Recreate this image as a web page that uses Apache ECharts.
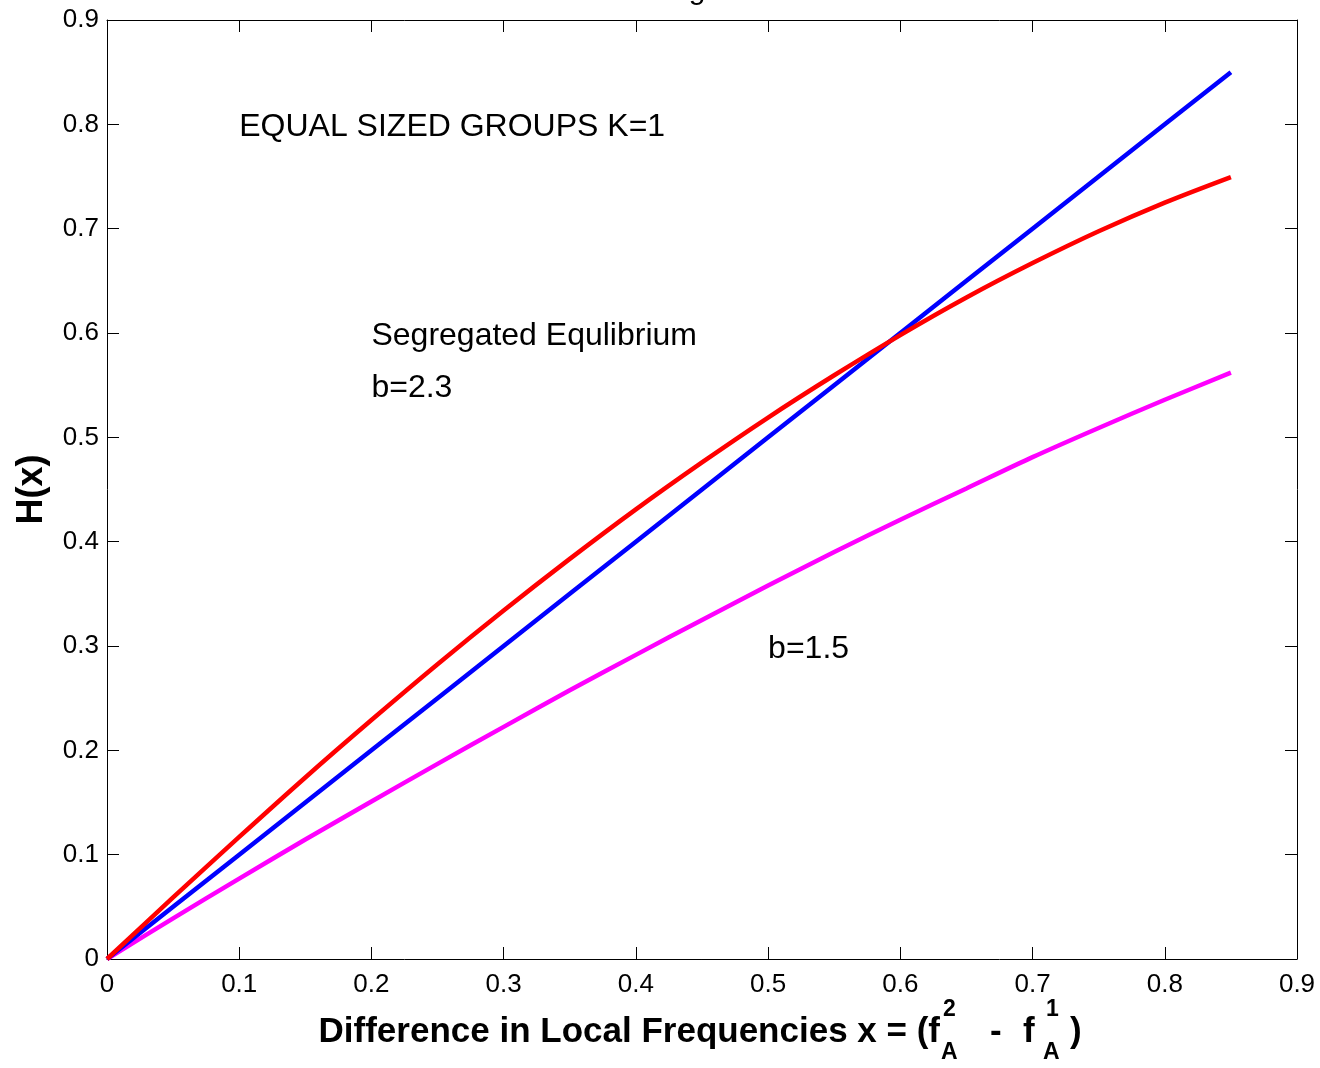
<!DOCTYPE html>
<html>
<head>
<meta charset="utf-8">
<script src="https://cdn.jsdelivr.net/npm/echarts@6/dist/echarts.min.js"></script>
<style>
  html, body { margin: 0; padding: 0; background: #fff; }
  #chart { width: 1320px; height: 1068px; }
</style>
</head>
<body>
<div id="chart"></div>
<script>
// x values (difference in local frequencies)
const xValues = [0, 0.05, 0.1, 0.15, 0.2, 0.25, 0.3, 0.35, 0.4, 0.45, 0.5, 0.55, 0.6, 0.65, 0.7, 0.75, 0.8, 0.85]
// H(x)
const diagonal = [0, 0.05, 0.1, 0.15, 0.2, 0.25, 0.3, 0.35, 0.4, 0.45, 0.5, 0.55, 0.6, 0.65, 0.7, 0.75, 0.8, 0.85]
const hB23 = [0, 0.059, 0.117, 0.174, 0.229, 0.2825, 0.334, 0.3835, 0.431, 0.476, 0.519, 0.5595, 0.598, 0.634, 0.667, 0.6975, 0.725, 0.7495]
const hB15 = [0, 0.039, 0.077, 0.1145, 0.151, 0.187, 0.2225, 0.2575, 0.2915, 0.325, 0.358, 0.390, 0.421, 0.451, 0.481, 0.509, 0.536, 0.562]
const tickLabels = ['0', '0.1', '0.2', '0.3', '0.4', '0.5', '0.6', '0.7', '0.8', '0.9']

// annotations, placed in data coordinates
const notes = [
  { text: 'EQUAL SIZED GROUPS K=1', at: [0.1, 0.8] },
  { text: 'Segregated Equlibrium', at: [0.2, 0.6] },
  { text: 'b=2.3', at: [0.2, 0.55] },
  { text: 'b=1.5', at: [0.5, 0.3] }
]

const FONT = "'Liberation Sans', Arial, Helvetica, sans-serif"

function pairs (ys) {
  return xValues.map((x, i) => [x, ys[i]])
}

function fmt (v) {
  return tickLabels[Math.round(v * 10)]
}

const axisLine = { show: true, onZero: false, lineStyle: { color: '#000', width: 1 } }
const axisTick = { show: true, inside: true, length: 12, lineStyle: { color: '#000', width: 1 } }

const chart = echarts.init(document.getElementById('chart'))

chart.setOption({
  animation: false,
  grid: { left: 107, right: 23, top: 20, bottom: 109 },
  xAxis: [
    {
      type: 'value', min: 0, max: 0.9, interval: 0.1,
      axisLine, axisTick, splitLine: { show: false },
      axisLabel: { formatter: fmt, color: '#000', fontSize: 26, fontFamily: FONT, margin: 13 }
    },
    {
      type: 'value', position: 'top', min: 0, max: 0.9, interval: 0.1,
      axisLine, axisTick, splitLine: { show: false }, axisLabel: { show: false }
    }
  ],
  yAxis: [
    {
      type: 'value', min: 0, max: 0.9, interval: 0.1,
      axisLine, axisTick, splitLine: { show: false },
      axisLabel: { formatter: fmt, color: '#000', fontSize: 26, fontFamily: FONT, margin: 8 },
      name: 'H(x)', nameLocation: 'middle', nameRotate: 90, nameGap: 57,
      nameTextStyle: { color: '#000', fontSize: 36, fontWeight: 'bold', fontFamily: FONT }
    },
    {
      type: 'value', position: 'right', min: 0, max: 0.9, interval: 0.1,
      axisLine, axisTick, splitLine: { show: false }, axisLabel: { show: false }
    }
  ],
  series: [
    { type: 'line', name: 'b=1.5', data: pairs(hB15), smooth: 0.3, showSymbol: false, lineStyle: { color: '#ff00ff', width: 4.5 } },
    { type: 'line', name: 'x', data: pairs(diagonal), showSymbol: false, lineStyle: { color: '#0000ff', width: 4.5 } },
    { type: 'line', name: 'b=2.3', data: pairs(hB23), smooth: 0.3, showSymbol: false, lineStyle: { color: '#ff0000', width: 4.5 } }
  ]
})

// annotation texts and axis title with stacked super/subscripts
const noteStyle = { fontSize: 32, fontFamily: FONT, fill: '#000', verticalAlign: 'middle', align: 'left' }
const graphics = notes.map(n => {
  const p = chart.convertToPixel({ gridIndex: 0 }, n.at)
  return { type: 'text', x: p[0], y: p[1] + 3, style: Object.assign({ text: n.text }, noteStyle) }
})

const big = { fontSize: 35, fontWeight: 'bold', fontFamily: FONT, fill: '#000', verticalAlign: 'middle' }
const small = { fontSize: 23, fontWeight: 'bold', fontFamily: FONT, fill: '#000', verticalAlign: 'middle', align: 'left' }
graphics.push(
  { type: 'text', x: 940, y: 1032, style: Object.assign({ text: 'Difference in Local Frequencies x = (f', align: 'right' }, big) },
  { type: 'text', x: 943, y: 1010, style: Object.assign({ text: '2' }, small) },
  { type: 'text', x: 941, y: 1053, style: Object.assign({ text: 'A' }, small) },
  { type: 'text', x: 990, y: 1032, style: Object.assign({ text: '-', align: 'left' }, big) },
  { type: 'text', x: 1023, y: 1032, style: Object.assign({ text: 'f', align: 'left' }, big) },
  { type: 'text', x: 1046, y: 1010, style: Object.assign({ text: '1' }, small) },
  { type: 'text', x: 1043, y: 1053, style: Object.assign({ text: 'A' }, small) },
  { type: 'text', x: 1070, y: 1032, style: Object.assign({ text: ')', align: 'left' }, big) },
  // cut-off title above the frame, only the descender shows
  { type: 'text', x: 697, y: 6, style: { text: 'g', fontSize: 30, fontFamily: FONT, fill: '#000', align: 'center', verticalAlign: 'bottom' } }
)
chart.setOption({ graphic: graphics })

window.onresize = function () {
  chart.resize()
}
</script>
</body>
</html>
